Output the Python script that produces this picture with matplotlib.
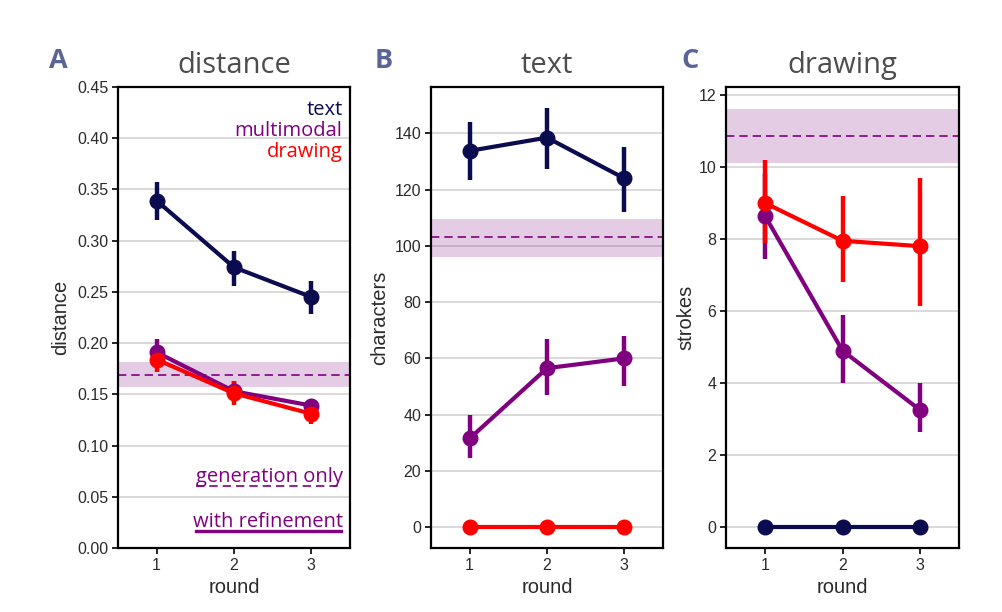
import matplotlib
matplotlib.use("Agg")
import matplotlib.pyplot as plt
import numpy as np

rounds = [1, 2, 3]
conditions = ["text", "multimodal", "drawing"]
colors = {"text": "#0b0b4f", "multimodal": "#800080", "drawing": "#ff0000"}

# Panel A: distance
dist_mean = {"text": [0.339, 0.274, 0.245],
             "multimodal": [0.191, 0.153, 0.139],
             "drawing": [0.184, 0.151, 0.131]}
dist_lo = {"text": [0.320, 0.256, 0.228],
           "multimodal": [0.180, 0.143, 0.133],
           "drawing": [0.172, 0.140, 0.121]}
dist_hi = {"text": [0.357, 0.290, 0.261],
           "multimodal": [0.204, 0.163, 0.145],
           "drawing": [0.196, 0.163, 0.140]}
dist_band = [0.157, 0.169, 0.182]

# Panel B: characters
char_mean = {"text": [133.8, 138.5, 124.0],
             "multimodal": [31.5, 56.5, 60.0],
             "drawing": [0.0, 0.0, 0.0]}
char_lo = {"text": [123.5, 127.5, 112.0],
           "multimodal": [24.5, 47.0, 50.0],
           "drawing": [0.0, 0.0, 0.0]}
char_hi = {"text": [144.0, 149.0, 135.0],
           "multimodal": [40.0, 67.0, 68.0],
           "drawing": [0.0, 0.0, 0.0]}
char_band = [96.0, 103.0, 109.5]

# Panel C: strokes
stroke_mean = {"text": [0.0, 0.0, 0.0],
               "multimodal": [8.65, 4.9, 3.25],
               "drawing": [9.0, 7.95, 7.8]}
stroke_lo = {"text": [0.0, 0.0, 0.0],
             "multimodal": [7.45, 4.0, 2.65],
             "drawing": [7.9, 6.8, 6.15]}
stroke_hi = {"text": [0.0, 0.0, 0.0],
             "multimodal": [9.8, 5.9, 4.0],
             "drawing": [10.2, 9.2, 9.7]}
stroke_band = [10.1, 10.87, 11.62]

fig = plt.figure(figsize=(10.02, 6.12), dpi=100)
W, H = 1002, 612

def add_ax(left, right, top=87, bottom=548):
    return fig.add_axes([left / W, (H - bottom) / H, (right - left) / W, (bottom - top) / H])

axA = add_ax(118, 350)
axB = add_ax(431, 663)
axC = add_ax(726, 959)

tick_font = "Liberation Sans"
title_font = "Open Sans"

def draw_panel(ax, mean, lo, hi, band, ylim, yticks, ylabel, title, ylabel_x):
    ax.axhspan(band[0], band[2], color="#800080", alpha=0.2, lw=0, zorder=1)
    ax.axhline(band[1], color="#800080", lw=1.2, ls=(0, (5, 3)), zorder=2)
    for c in conditions:
        m = np.array(mean[c]); l = np.array(lo[c]); h = np.array(hi[c])
        ax.errorbar(rounds, m, yerr=[m - l, h - m], color=colors[c], lw=3,
                    elinewidth=3.2, capsize=0, marker="o", markersize=10.5, zorder=3)
    ax.set_xlim(0.5, 3.5)
    ax.set_ylim(*ylim)
    ax.set_yticks(yticks)
    ax.set_xticks(rounds)
    ax.yaxis.grid(True, color="#d3d3d3", lw=1.2, zorder=0)
    ax.set_axisbelow(True)
    for s in ax.spines.values():
        s.set_linewidth(1.6)
        s.set_color("black")
    ax.tick_params(axis="both", direction="out", length=4, width=1.2,
                   labelsize=11.5, labelcolor="#2b2b2b", color="black", pad=3)
    for lab in ax.get_xticklabels() + ax.get_yticklabels():
        lab.set_fontfamily(tick_font)
    ax.set_xlabel("round", fontsize=14.5, fontfamily=tick_font, color="#2b2b2b", labelpad=3.5)
    ax.set_ylabel(ylabel, fontsize=14.5, fontfamily=tick_font, color="#2b2b2b")
    ax.yaxis.set_label_coords(ylabel_x, 0.5)
    ax.text(0.5, 1.030, title, transform=ax.transAxes, ha="center", va="baseline",
            fontsize=21, fontfamily=title_font, color="#4d4d4d")

draw_panel(axA, dist_mean, dist_lo, dist_hi, dist_band, (0, 0.45),
           np.arange(0, 0.451, 0.05), "distance", "distance", -0.205)
axA.set_yticklabels([f"{v:.2f}" for v in np.arange(0, 0.451, 0.05)], fontfamily=tick_font)
draw_panel(axB, char_mean, char_lo, char_hi, char_band, (-7.45, 156.5),
           np.arange(0, 141, 20), "characters", "text", -0.18)
draw_panel(axC, stroke_mean, stroke_lo, stroke_hi, stroke_band, (-0.58, 12.22),
           np.arange(0, 13, 2), "strokes", "drawing", -0.13)

# Panel letters
for x, letter in [(58, "A"), (384, "B"), (690, "C")]:
    fig.text(x / W, 1 - 68 / H, letter, ha="center", va="baseline", fontsize=19.5,
             fontweight="bold", fontfamily=title_font, color="#5a6496")

# Legend text in panel A
for y, c in [(0.939, "text"), (0.894, "multimodal"), (0.848, "drawing")]:
    axA.text(0.968, y, c, transform=axA.transAxes, ha="right", va="baseline",
             fontsize=14.5, fontfamily=title_font, color=colors[c])

axA.text(0.970, 0.144, "generation only", transform=axA.transAxes, ha="right", va="baseline",
         fontsize=14.5, fontfamily=title_font, color="#800080")
axA.plot([0.336, 0.966], [0.134, 0.134], transform=axA.transAxes, color="#800080",
         lw=1.2, ls=(0, (5, 3)), clip_on=False)
axA.text(0.970, 0.046, "with refinement", transform=axA.transAxes, ha="right", va="baseline",
         fontsize=14.5, fontfamily=title_font, color="#800080")
axA.plot([0.336, 0.962], [0.037, 0.037], transform=axA.transAxes, color="#800080",
         lw=2.4, clip_on=False)

fig.savefig("out.png", dpi=100)
